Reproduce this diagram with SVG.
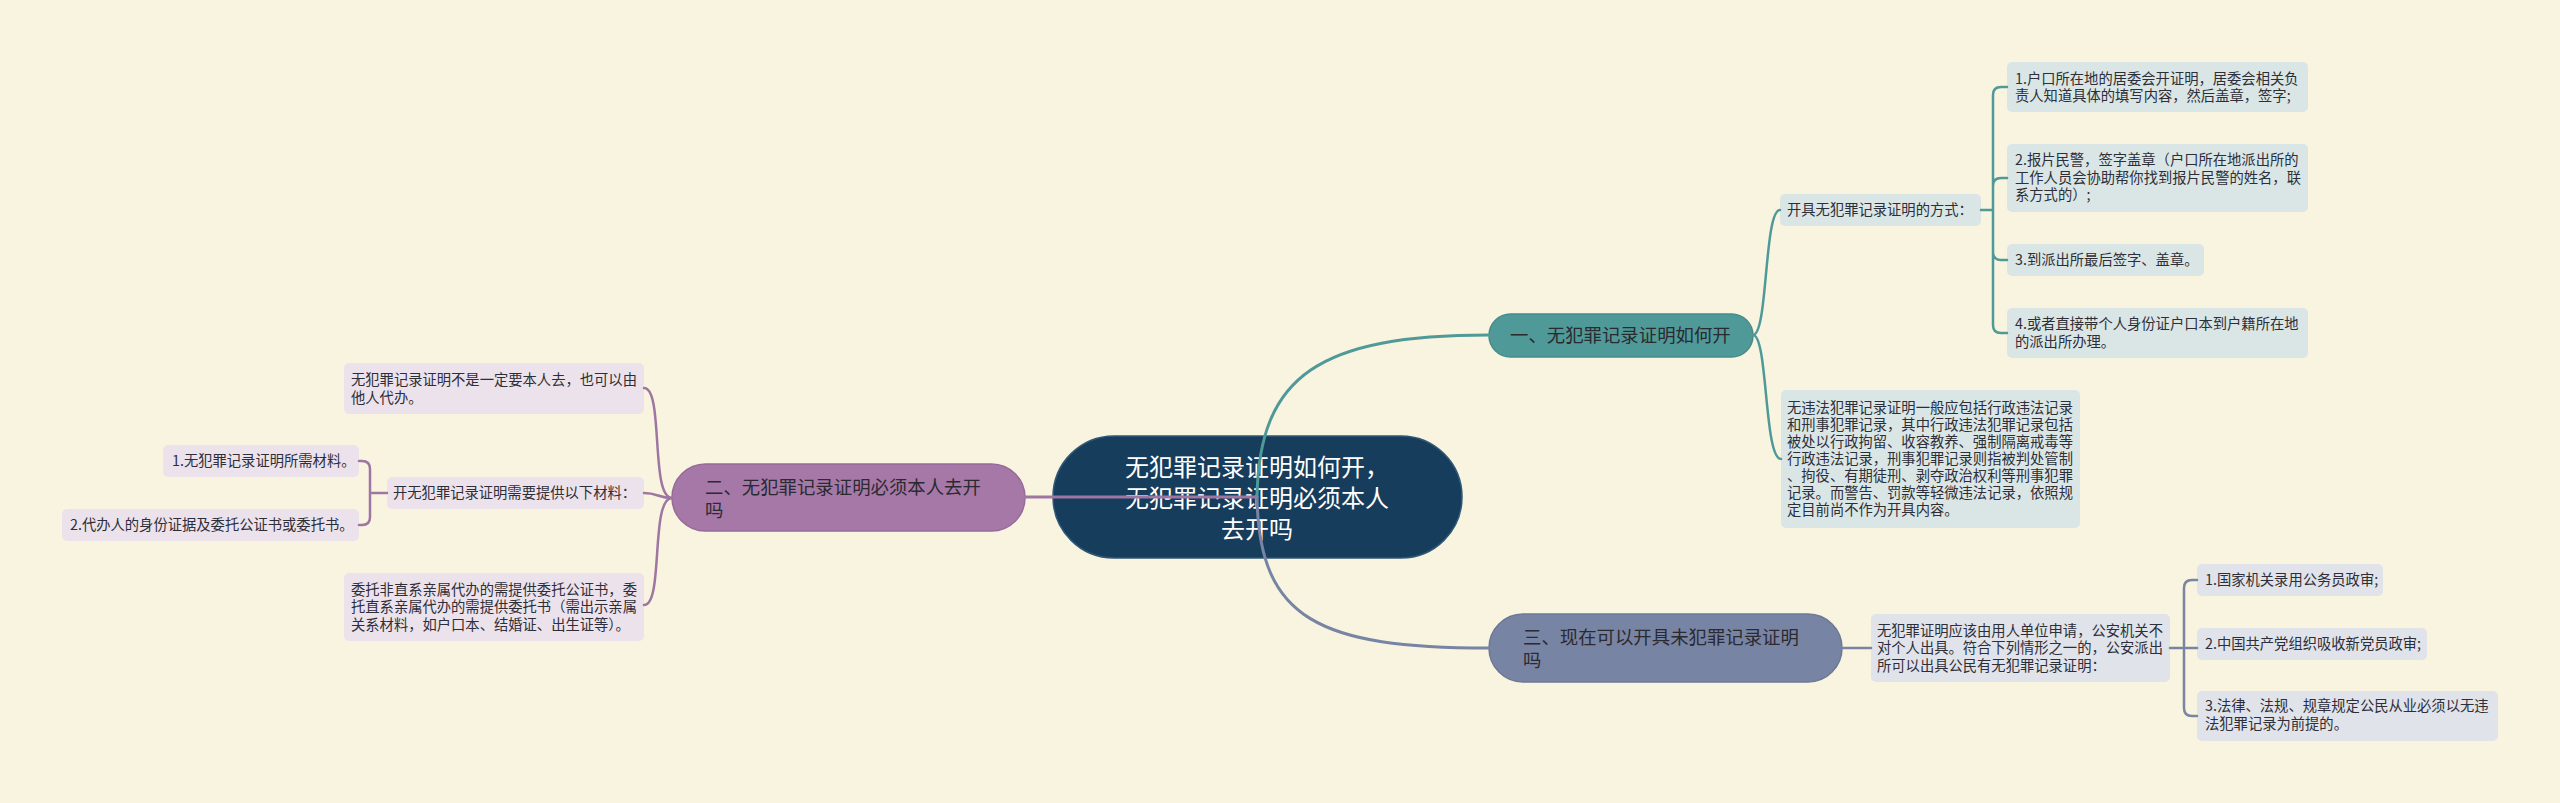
<svg xmlns="http://www.w3.org/2000/svg" width="2560" height="803" viewBox="0 0 2560 803">
<style>
text{font-family:"Noto Sans CJK SC","Noto Sans",sans-serif;fill:#2e2e38}
.root{fill:#173d5c;stroke:#2f5776;stroke-width:1.5}
.rt{fill:#ffffff;font-size:24px;text-anchor:middle}
.b1{fill:#4f9a98;stroke:#468c8a;stroke-width:1.5}
.b2{fill:#a678a8;stroke:#976a99;stroke-width:1.5}
.b3{fill:#7884a4;stroke:#6c7896;stroke-width:1.5}
.bt{font-size:18.4px;fill:#2a2a30}
.s1{fill:#dae6e6}
.s2{fill:#ece2ec}
.s3{fill:#e0e3ea}
.st{font-size:14.3px}
.c{fill:none;stroke-linecap:round;stroke-linejoin:round}
.ct{stroke:#4f9a98}
.cp{stroke:#9e76a2}
.cg{stroke:#7884a4}
.w3{stroke-width:3}
.w2{stroke-width:2.5}
</style>
<rect x="0" y="0" width="2560" height="803" fill="#f9f4e0"/>

<g id="root">
<rect class="root" x="1053" y="436" width="409" height="122" rx="61"/>
<text class="rt"><tspan x="1257" y="476">无犯罪记录证明如何开，</tspan><tspan x="1257" y="507">无犯罪记录证明必须本人</tspan><tspan x="1257" y="538">去开吗</tspan></text>
</g>

<g id="branch1">
<rect class="b1" x="1489" y="314" width="264" height="43" rx="21.5"/>
<text class="bt" x="1510" y="342">一、无犯罪记录证明如何开</text>
</g>
<g id="b1-way">
<rect class="s1" x="1780" y="194" width="201" height="32" rx="5"/>
<text class="st" x="1787" y="215">开具无犯罪记录证明的方式：</text>
</g>
<g id="b1-way-1">
<rect class="s1" x="2007" y="62" width="301" height="50" rx="5"/>
<text class="st"><tspan x="2015" y="83.5">1.户口所在地的居委会开证明，居委会相关负</tspan><tspan x="2015" y="101">责人知道具体的填写内容，然后盖章，签字;</tspan></text>
</g>
<g id="b1-way-2">
<rect class="s1" x="2007" y="144" width="301" height="68" rx="5"/>
<text class="st"><tspan x="2015" y="165">2.报片民警，签字盖章（户口所在地派出所的</tspan><tspan x="2015" y="182.5">工作人员会协助帮你找到报片民警的姓名，联</tspan><tspan x="2015" y="200">系方式的）;</tspan></text>
</g>
<g id="b1-way-3">
<rect class="s1" x="2007" y="244" width="197" height="32" rx="5"/>
<text class="st" x="2015" y="265">3.到派出所最后签字、盖章。</text>
</g>
<g id="b1-way-4">
<rect class="s1" x="2007" y="308" width="301" height="50" rx="5"/>
<text class="st"><tspan x="2015" y="329">4.或者直接带个人身份证户口本到户籍所在地</tspan><tspan x="2015" y="346.5">的派出所办理。</tspan></text>
</g>
<g id="b1-note">
<rect class="s1" x="1781" y="390" width="299" height="138" rx="5"/>
<text class="st"><tspan x="1787" y="413">无违法犯罪记录证明一般应包括行政违法记录</tspan><tspan x="1787" y="430">和刑事犯罪记录，其中行政违法犯罪记录包括</tspan><tspan x="1787" y="447">被处以行政拘留、收容教养、强制隔离戒毒等</tspan><tspan x="1787" y="464">行政违法记录，刑事犯罪记录则指被判处管制</tspan><tspan x="1787" y="481">、拘役、有期徒刑、剥夺政治权利等刑事犯罪</tspan><tspan x="1787" y="498">记录。而警告、罚款等轻微违法记录，依照规</tspan><tspan x="1787" y="515">定目前尚不作为开具内容。</tspan></text>
</g>

<g id="branch2">
<rect class="b2" x="672" y="464" width="353" height="67" rx="33.5"/>
<text class="bt"><tspan x="705" y="494">二、无犯罪记录证明必须本人去开</tspan><tspan x="705" y="517">吗</tspan></text>
</g>
<g id="b2-agent">
<rect class="s2" x="344" y="363" width="300" height="51" rx="5"/>
<text class="st"><tspan x="351" y="385">无犯罪记录证明不是一定要本人去，也可以由</tspan><tspan x="351" y="402.5">他人代办。</tspan></text>
</g>
<g id="b2-materials">
<rect class="s2" x="387" y="477" width="257" height="32" rx="5"/>
<text class="st" x="393" y="498">开无犯罪记录证明需要提供以下材料：</text>
</g>
<g id="b2-materials-1">
<rect class="s2" x="163" y="445" width="196" height="32" rx="5"/>
<text class="st" x="172" y="466">1.无犯罪记录证明所需材料。</text>
</g>
<g id="b2-materials-2">
<rect class="s2" x="62" y="509" width="297" height="32" rx="5"/>
<text class="st" x="70" y="530">2.代办人的身份证据及委托公证书或委托书。</text>
</g>
<g id="b2-entrust">
<rect class="s2" x="344" y="573" width="300" height="68" rx="5"/>
<text class="st"><tspan x="351" y="594.5">委托非直系亲属代办的需提供委托公证书，委</tspan><tspan x="351" y="612">托直系亲属代办的需提供委托书（需出示亲属</tspan><tspan x="351" y="629.5">关系材料，如户口本、结婚证、出生证等）。</tspan></text>
</g>

<g id="branch3">
<rect class="b3" x="1489" y="614" width="353" height="68" rx="34"/>
<text class="bt"><tspan x="1523" y="644">三、现在可以开具未犯罪记录证明</tspan><tspan x="1523" y="667">吗</tspan></text>
</g>
<g id="b3-apply">
<rect class="s3" x="1871" y="614" width="299" height="68" rx="5"/>
<text class="st"><tspan x="1877" y="635.5">无犯罪证明应该由用人单位申请，公安机关不</tspan><tspan x="1877" y="653">对个人出具。符合下列情形之一的，公安派出</tspan><tspan x="1877" y="670.5">所可以出具公民有无犯罪记录证明：</tspan></text>
</g>
<g id="b3-apply-1">
<rect class="s3" x="2197" y="564" width="186" height="32" rx="5"/>
<text class="st" x="2205" y="585">1.国家机关录用公务员政审;</text>
</g>
<g id="b3-apply-2">
<rect class="s3" x="2197" y="628" width="230" height="32" rx="5"/>
<text class="st" x="2205" y="649">2.中国共产党组织吸收新党员政审;</text>
</g>
<g id="b3-apply-3">
<rect class="s3" x="2197" y="691" width="301" height="50" rx="5"/>
<text class="st"><tspan x="2205" y="711">3.法律、法规、规章规定公民从业必须以无违</tspan><tspan x="2205" y="728.5">法犯罪记录为前提的。</tspan></text>
</g>

<g id="connectors">
<path class="c ct w3" d="M1257 497 C1259 375 1320 335 1489 335"/>
<path class="c cp w3" d="M1257 497 L1025 497"/>
<path class="c cg w3" d="M1257 497 C1259 620 1320 648 1489 648"/>

<path class="c ct w2" d="M1753 335 C1768 335 1764 210 1780 210"/>
<path class="c ct w2" d="M1753 335 C1768 335 1764 459 1781 459"/>
<path class="c ct w2" d="M1981 210 H1993 M1993 210 V95 Q1993 87 2001 87 H2007 M1993 210 V186 Q1993 178 2001 178 H2007 M1993 210 V252 Q1993 260 2001 260 H2007 M1993 210 V325 Q1993 333 2001 333 H2007"/>

<path class="c cp w2" d="M672 498 C650 498 664 388 644 388"/>
<path class="c cp w2" d="M672 498 C658 498 658 493 644 493"/>
<path class="c cp w2" d="M672 498 C650 498 664 605 644 605"/>
<path class="c cp w2" d="M387 493 H370 M370 493 V469 Q370 461 362 461 H359 M370 493 V517 Q370 525 362 525 H359"/>

<path class="c cg w2" d="M1842 648 H1871"/>
<path class="c cg w2" d="M2170 648 H2184 M2184 648 V588 Q2184 580 2192 580 H2197 M2184 648 H2197 M2184 648 V708 Q2184 716 2192 716 H2197"/>
</g>
</svg>
